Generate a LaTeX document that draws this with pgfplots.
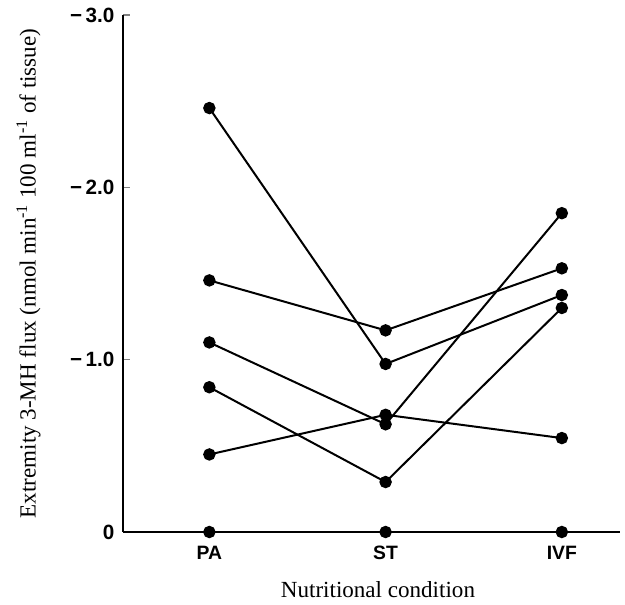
\documentclass[border=0pt]{standalone}
\usepackage{fontspec}
\setmainfont{Liberation Serif}
\setsansfont{Liberation Sans}
\usepackage{pgfplots}
\pgfplotsset{compat=1.18}
\pgfplotsset{flux/.style={black, solid, line width=1.5pt, mark=*, mark size=3.9pt, mark options={solid, fill=black}}}
\begin{document}
\begin{tikzpicture}
\path[use as bounding box] (-92.25pt,-54.75pt) rectangle (376.5pt,399pt);
\begin{axis}[
  at={(0,0)}, anchor=south west,
  scale only axis,
  width=372.75pt, height=387.75pt,
  xmin=-0.49, xmax=2.33,
  ymin=-3, ymax=0,
  y dir=reverse,
  clip=false,
  axis lines*=left,
  axis line style={line width=1.4pt,-},
  xtick={0,1,2},
  xticklabels={PA,ST,IVF},
  xtick style={draw=none},
  ytick={-3,-2,-1,0},
  yticklabels={−\,3.0,−\,2.0,−\,1.0,0},
  ytick style={line width=1.2pt},
  tick align=inside,
  major tick length=5pt,
  x tick label style={font=\sffamily\bfseries\fontsize{14.5}{16}\selectfont, yshift=-7pt},
  y tick label style={font=\sffamily\bfseries\fontsize{15.5}{16}\selectfont, xshift=-3pt},
  xlabel={Nutritional condition},
  ylabel={Extremity 3-MH flux (nmol min\textsuperscript{-1} 100 ml\textsuperscript{-1} of tissue)},
  label style={font=\fontsize{17.3}{20}\selectfont},
  xlabel style={at={(axis description cs:0.513,-0.112)}, anchor=center},
  ylabel style={at={(axis description cs:-0.19,0.5)}, anchor=center},
]
\addplot[flux] coordinates {(0,-2.46) (1,-0.975) (2,-1.375)};
\addplot[flux] coordinates {(0,-1.46) (1,-1.17) (2,-1.53)};
\addplot[flux] coordinates {(0,-1.10) (1,-0.625) (2,-1.85)};
\addplot[flux] coordinates {(0,-0.84) (1,-0.29) (2,-1.30)};
\addplot[flux] coordinates {(0,-0.45) (1,-0.68) (2,-0.545)};
\addplot[flux, only marks] coordinates {(0,0) (1,0) (2,0)};
\end{axis}
\end{tikzpicture}
\end{document}
